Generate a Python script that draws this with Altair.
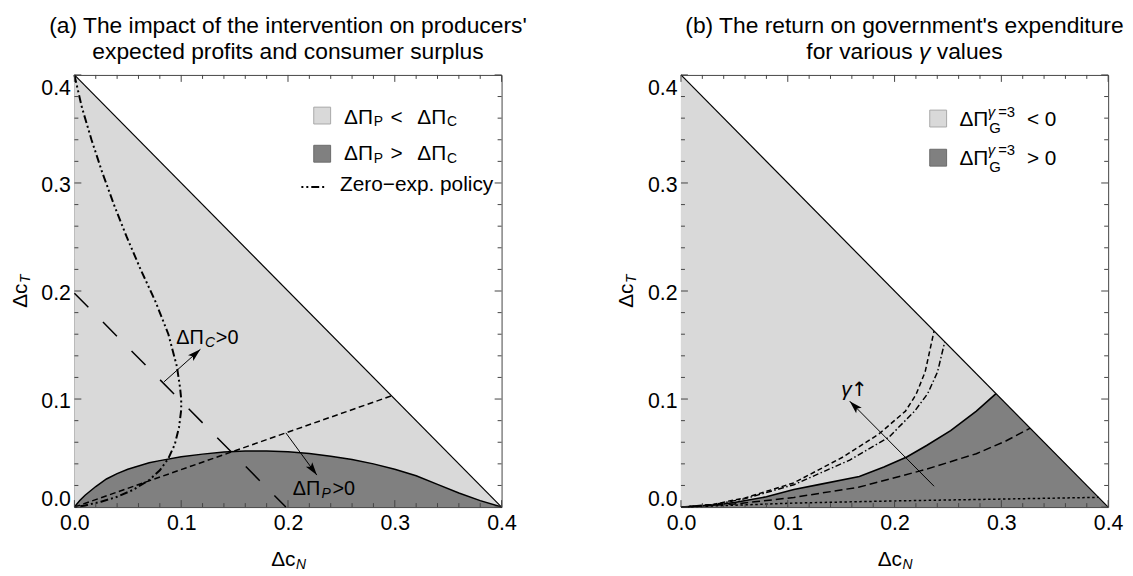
import math
import altair as alt
import pandas as pd

FONT = "Liberation Sans"
LIGHT = "#d9d9d9"
DARK = "#808080"
FRAME = "#444444"
W, H = 431, 436

# ---------------- panel (a) data ----------------
tri_x = [0.0, 0.4]
tri_y = [0.4, 0.0]

a_dark_x = [0, 0.005, 0.01, 0.02, 0.03, 0.04, 0.05, 0.06, 0.07, 0.08, 0.10, 0.12, 0.14,
            0.16, 0.18, 0.20, 0.22, 0.24, 0.26, 0.28, 0.30, 0.32, 0.34, 0.36, 0.38, 0.40]
a_dark_y = [0, 0.006, 0.011, 0.019, 0.026, 0.031, 0.035, 0.038, 0.041, 0.043, 0.0465, 0.049, 0.051,
            0.052, 0.052, 0.0512, 0.0495, 0.047, 0.044, 0.040, 0.035, 0.029, 0.021, 0.013, 0.006, 0.0]

a_short_x = [0.0, 0.297]
a_short_y = [0.0, 0.103]

a_long_x = [0.0, 0.198]
a_long_y = [0.198, 0.0]

a_zero_x = [0, 0.007, 0.016, 0.026, 0.037, 0.049, 0.062, 0.076, 0.088, 0.096, 0.099, 0.1,
            0.1, 0.098, 0.094, 0.088, 0.08, 0.07, 0.055, 0.04, 0.025, 0.01, 0]
a_zero_y = [0.4, 0.37, 0.34, 0.31, 0.28, 0.25, 0.22, 0.19, 0.16, 0.13, 0.11, 0.1,
            0.09, 0.074, 0.058, 0.045, 0.034, 0.025, 0.016, 0.0095, 0.005, 0.0015, 0]

a_arrow_c = [0.084, 0.116, 0.118, 0.146]
a_arrow_p = [0.198, 0.0687, 0.227, 0.0296]
a_label_c = [0.0953, 0.1567]
a_label_p = [0.2045, 0.0163]

# ---------------- panel (b) data ----------------
b_solid_x = [0, 0.03, 0.05, 0.08, 0.1057, 0.13, 0.167, 0.19, 0.2114, 0.23, 0.2525, 0.2766, 0.295]
b_solid_y = [0, 0.0018, 0.0042, 0.0095, 0.0163, 0.021, 0.0283, 0.037, 0.0464, 0.057, 0.0707, 0.0889, 0.105]

b_dash_lo_x = [0, 0.05, 0.1057, 0.167, 0.2282, 0.2766, 0.3042, 0.327]
b_dash_lo_y = [0, 0.0028, 0.0089, 0.0185, 0.0346, 0.0494, 0.0612, 0.073]

b_dot_x = [0, 0.05, 0.1057, 0.2, 0.3, 0.391]
b_dot_y = [0, 0.0017, 0.0037, 0.0057, 0.0074, 0.009]

b_dash_hi_x = [0, 0.03, 0.06, 0.1057, 0.1518, 0.1854, 0.2102, 0.22, 0.2286, 0.237]
b_dash_hi_y = [0, 0.0025, 0.0085, 0.0224, 0.0464, 0.0677, 0.0888, 0.104, 0.125, 0.163]

b_dashdot_x = [0, 0.03, 0.06, 0.1057, 0.158, 0.1946, 0.2189, 0.231, 0.2402, 0.247]
b_dashdot_y = [0, 0.0022, 0.0078, 0.0207, 0.0435, 0.0646, 0.0889, 0.105, 0.125, 0.153]

b_arrow = [0.237, 0.0193, 0.158, 0.098]
b_label_g = [0.150, 0.1087]

# ---------------- ticks ----------------
major_ticks = [0.0, 0.1, 0.2, 0.3, 0.4]
minor_ticks = [0.02, 0.04, 0.06, 0.08, 0.12, 0.14, 0.16, 0.18, 0.22, 0.24, 0.26, 0.28,
               0.32, 0.34, 0.36, 0.38]

xs = alt.Scale(domain=[0, 0.4], nice=False, zero=False)
ys = alt.Scale(domain=[0, 0.4], nice=False, zero=False)
x_axis = alt.Axis(values=major_ticks, format=".1f", title=None, labelPadding=6,
                  labelFlush=False)
y_axis = alt.Axis(values=major_ticks, format=".1f", title=None, labelPadding=4,
                  labelFlush=True, labelOffset=3)


def X(field):
    return alt.X(f"{field}:Q", scale=xs, axis=x_axis)


def Y(field):
    return alt.Y(f"{field}:Q", scale=ys, axis=y_axis)


def area_layer(xv, yv, color):
    df = pd.DataFrame({"x": xv, "y": yv})
    return alt.Chart(df).mark_area(color=color, opacity=1).encode(
        x=X("x"), y=Y("y"), y2=alt.datum(0))


def line_layer(xv, yv, dash=None, width=1.5):
    df = pd.DataFrame({"x": xv, "y": yv, "i": list(range(len(xv)))})
    kw = dict(color="black", strokeWidth=width)
    if dash:
        kw["strokeDash"] = dash
    return alt.Chart(df).mark_line(**kw).encode(x=X("x"), y=Y("y"), order="i:Q")


def tick_layers():
    out = []
    for vals, L in ((major_ticks, 7), (minor_ticks, 4)):
        df = pd.DataFrame({"v": vals})
        base = alt.Chart(df).mark_rule(color=FRAME, strokeWidth=1)
        out.append(base.encode(x=X("v"), y=alt.value(H), y2=alt.value(H - L)))
        out.append(base.encode(x=X("v"), y=alt.value(0), y2=alt.value(L)))
        out.append(base.encode(y=Y("v"), x=alt.value(0), x2=alt.value(L)))
        out.append(base.encode(y=Y("v"), x=alt.value(W), x2=alt.value(W - L)))
    return out


HEAD = "M0,0 L0.3,1 L0,0.78 L-0.3,1 Z"


def arrow_layers(a):
    x1, y1, x2, y2 = a
    df = pd.DataFrame({"x": [x1], "y": [y1], "x2": [x2], "y2": [y2]})
    line = alt.Chart(df).mark_rule(color="black", strokeWidth=1).encode(
        x=X("x"), y=Y("y"), x2="x2:Q", y2="y2:Q")
    dxp = (x2 - x1) / 0.4 * W
    dyp = (y2 - y1) / 0.4 * H
    ang = math.degrees(math.atan2(dxp, dyp)) % 360
    head = alt.Chart(df).mark_point(shape=HEAD, filled=True, color="black", size=700,
                                    angle=ang, opacity=1, strokeWidth=0).encode(
        x=X("x2"), y=Y("y2"))
    return [line, head]


def rich_text(pieces, data_xy=None, pix=None, angle=None, baseline="middle"):
    out = []
    if pix is not None:
        df = pd.DataFrame({"k": [0]})
        enc = dict(x=alt.value(pix[0]), y=alt.value(pix[1]))
    else:
        df = pd.DataFrame({"x": [data_xy[0]], "y": [data_xy[1]]})
        enc = dict(x=X("x"), y=Y("y"))
    for piece in pieces:
        txt, dx, size, italic, dy = piece[:5]
        font = piece[5] if len(piece) > 5 else FONT
        kw = dict(text=txt, align="left", baseline=baseline, dx=dx, dy=dy,
                  font=font, fontSize=size, color="black")
        if italic:
            kw["fontStyle"] = "italic"
        if angle is not None:
            kw["angle"] = angle
        out.append(alt.Chart(df).mark_text(**kw).encode(**enc))
    return out


TITLE_SIZE = 23


def center_text(txt, px, py, size=TITLE_SIZE):
    return alt.Chart(pd.DataFrame({"k": [0]})).mark_text(
        text=txt, align="center", baseline="alphabetic", font=FONT, fontSize=size,
        color="black").encode(x=alt.value(px), y=alt.value(py))


def swatch(px, py, fill, stroke):
    return alt.Chart(pd.DataFrame({"k": [0]})).mark_point(
        shape="square", filled=True, fill=fill, stroke=stroke, strokeWidth=1,
        size=17 * 17, opacity=1).encode(x=alt.value(px), y=alt.value(py))


def axis_titles(sub_x, sub_y):
    out = []
    out += rich_text([("Δc", -17, 21, False, 0), (sub_x, 8, 14, True, 5)], pix=(W / 2, H + 53))
    out += rich_text([("Δc", -17, 21, False, 0), (sub_y, 8, 14, True, 5)], pix=(-54, H / 2), angle=270)
    return out


ZDASH = [8, 3, 2, 3, 2, 3]

# ---------------- panel (a) ----------------
layers_a = [
    area_layer(tri_x, tri_y, LIGHT),
    area_layer(a_dark_x, a_dark_y, DARK),
    line_layer(a_dark_x, a_dark_y, width=1.5),
    line_layer(a_short_x, a_short_y, dash=[6, 3.5], width=1.5),
    line_layer(a_long_x, a_long_y, dash=[20, 21], width=1.5),
    line_layer(a_zero_x, a_zero_y, dash=ZDASH, width=2),
    line_layer(tri_x, tri_y, width=1.2),
]
layers_a += tick_layers()
layers_a += arrow_layers(a_arrow_c) + arrow_layers(a_arrow_p)
layers_a += rich_text([("ΔΠ", 0, 20, False, 0), ("C", 29, 14, True, 5), (">0", 40, 20, False, 0)],
                      data_xy=a_label_c)
layers_a += rich_text([("ΔΠ", 0, 20, False, 0), ("P", 29, 14, True, 5), (">0", 40, 20, False, 0)],
                      data_xy=a_label_p)
# legend (a)
layers_a += [swatch(250, 41, LIGHT, "#a8a8a8"), swatch(250, 79.5, DARK, "#6a6a6a")]
layers_a += rich_text([("ΔΠ", 0, 21, False, 0), ("P", 30, 14, False, 5), ("<", 47, 21, False, 0),
                       ("ΔΠ", 74, 21, False, 0), ("C", 104, 14, False, 5)], pix=(272, 43))
layers_a += rich_text([("ΔΠ", 0, 21, False, 0), ("P", 30, 14, False, 5), (">", 47, 21, False, 0),
                       ("ΔΠ", 74, 21, False, 0), ("C", 104, 14, False, 5)], pix=(272, 80))
layers_a.append(alt.Chart(pd.DataFrame({"k": [0]})).mark_rule(
    color="black", strokeWidth=2, strokeDash=[2, 3, 2, 3, 8, 3]).encode(
    x=alt.value(229), x2=alt.value(253), y=alt.value(113)))
layers_a += rich_text([("Zero−exp. policy", 0, 21, False, 0)], pix=(268, 111))
layers_a += axis_titles("N", "T")
layers_a.append(center_text("(a) The impact of the intervention on producers'", W / 2, -42))
layers_a.append(center_text("expected profits and consumer surplus", W / 2, -16))

panel_a = alt.layer(*layers_a).properties(width=W, height=H)

# ---------------- panel (b) ----------------
b_dark_x = b_solid_x + [0.4]
b_dark_y = b_solid_y + [0.0]

layers_b = [
    area_layer(tri_x, tri_y, LIGHT),
    area_layer(b_dark_x, b_dark_y, DARK),
    line_layer(b_solid_x, b_solid_y, width=1.6),
    line_layer(b_dash_lo_x, b_dash_lo_y, dash=[8, 4], width=1.5),
    line_layer(b_dot_x, b_dot_y, dash=[2.5, 2.5], width=1.5),
    line_layer(b_dash_hi_x, b_dash_hi_y, dash=[5, 3], width=1.5),
    line_layer(b_dashdot_x, b_dashdot_y, dash=[6, 2.5, 1.5, 2.5], width=1.5),
    line_layer(tri_x, tri_y, width=1.2),
]
layers_b += tick_layers()
layers_b += arrow_layers(b_arrow)
layers_b += rich_text([("γ", 0, 21, True, 0), ("↑", 10, 20, False, 0, "DejaVu Sans")],
                      data_xy=b_label_g)
# legend (b)
layers_b += [swatch(259.5, 44, LIGHT, "#a8a8a8"), swatch(259.5, 83.5, DARK, "#6a6a6a")]
for row_y, op in ((45.5, "< 0"), (84.5, "> 0")):
    layers_b += rich_text([("ΔΠ", 0, 21, False, 0), ("γ", 28.5, 15, True, -8.5),
                           ("=3", 39, 15, False, -8.5), ("G", 30, 15, False, 8),
                           (op, 68, 21, False, 0)], pix=(281, row_y))
layers_b += axis_titles("N", "T")
TB = W / 2 + 10
layers_b.append(center_text("(b) The return on government's expenditure", TB, -42))
# second title line: "for various γ values" (γ italic), centred on TB
s = TITLE_SIZE / 22.0
layers_b += rich_text([("for various", -94.75 * s, TITLE_SIZE, False, 0),
                       ("γ", 14.06 * s, TITLE_SIZE, True, 0),
                       ("values", 31.2 * s, TITLE_SIZE, False, 0)],
                      pix=(TB, -16), baseline="alphabetic")

panel_b = alt.layer(*layers_b).properties(width=W, height=H)

chart = alt.hconcat(panel_a, panel_b, spacing=88).properties(
    padding={"left": 1, "top": 4, "right": 0, "bottom": 0}
).configure_view(stroke=FRAME, strokeWidth=1).configure_axis(
    grid=False, domain=False, ticks=False, labelFont=FONT, labelFontSize=21.5,
    labelColor="black")

chart.save("out.html", embed_options={"renderer": "svg", "actions": False})
